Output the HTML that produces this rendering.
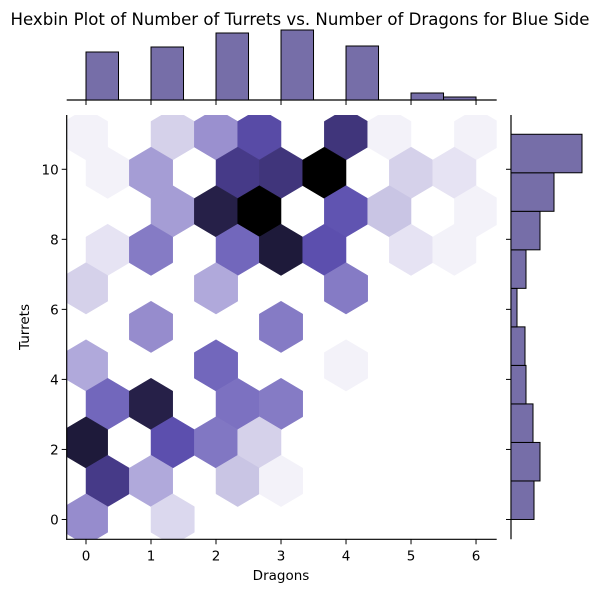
<!DOCTYPE html>
<html><head><meta charset="utf-8"><style>
body{margin:0;background:#fff;}
svg{display:block;font-family:"DejaVu Sans","Liberation Sans",sans-serif;}
</style></head><body>
<svg id="chart" width="600" height="592" viewBox="0 0 600 592">
<defs><clipPath id="clipMain"><rect x="66.7" y="115" width="430" height="424.3"/></clipPath></defs>
<text x="300" y="25" text-anchor="middle" font-size="16.6" fill="#000">Hexbin Plot of Number of Turrets vs. Number of Dragons for Blue Side</text>
<g id="hexes" clip-path="url(#clipMain)"></g>
<g id="axes"></g>
<g id="topHist"></g>
<g id="rightHist"></g>
<text x="281" y="580" text-anchor="middle" font-size="13.5">Dragons</text>
<text transform="translate(29,327) rotate(-90)" text-anchor="middle" font-size="13.5">Turrets</text>
</svg>
<script>
// hex cells: [lattice (1 or 2), column i, row j, intensity 0..10]
const hexLattice = [1,1,1,1,1,1,1, 2,2,2,2,2,2,2, 1,1,1,1,1,1, 2,2,2,2,2,2,2, 1,1,1, 2,2, 1,1,1, 2,2,2,2, 1,1,1,1, 2,2,2,2, 1,1];
const hexCol     = [0,2,3,4,6,7,9, 0,1,3,4,5,7,8, 2,3,4,6,7,9, 0,1,3,4,5,7,8, 0,3,6, 1,4, 0,3,6, 0,1,3,4, 0,2,3,4, 0,1,3,4, 0,2];
const hexRow     = [5,5,5,5,5,5,5, 4,4,4,4,4,4,4, 4,4,4,4,4,4, 3,3,3,3,3,3,3, 3,3,3, 2,2, 2,2,2, 1,1,1,1, 1,1,1,1, 0,0,0,0, 0,0];
const hexValue   = [0,1.5,4,7.2,8.2,0,0, 0,3.5,8,8.2,10,1.5,0.7, 3.5,9,10,6.8,2,0, 0.7,5,6,9.2,7,0.7,0, 1.5,3,5, 4.2,5, 3,6,0, 6,9,5.5,5, 9.2,7,5.2,1.5, 8,3,2,0, 4.2,1.2];
const dragonBins = [0,0.5,1,1.5,2,2.5,3,3.5,4,4.5,5,5.5];
const dragonCounts = [48,0,53,0,67,0,70,0,54,0,7,3];
const turretBins = [0,1.1,2.2,3.3,4.4,5.5,6.6,7.7,8.8,9.9];
const turretCounts = [23,29,22,15,14,6,15,29,43,71];
const xTicks = [0,1,2,3,4,5,6];
const yTicks = [0,2,4,6,8,10];

const NS="http://www.w3.org/2000/svg";
const X0=66.7,X1=496.7,Y0=539.3,Y1=115;
const xd=[-0.297,6.318], yd=[-0.566,11.55];
const sx=v=>X0+(v-xd[0])/(xd[1]-xd[0])*(X1-X0);
const sy=v=>Y0-(v-yd[0])/(yd[1]-yd[0])*(Y0-Y1);
const gx=6/9, gy=11/5;
const stops=["#f3f2f9","#e0ddf0","#c9c5e4","#b0a9db","#9a90cf","#857bc5","#7267bc","#5c4fae","#463a88","#262048","#000000"];
function hex2rgb(h){return [1,3,5].map(k=>parseInt(h.substr(k,2),16));}
function color(v){v=Math.max(0,Math.min(10,v));const a=Math.floor(v),b=Math.min(10,a+1),t=v-a;
 const c1=hex2rgb(stops[a]),c2=hex2rgb(stops[b]);return "rgb("+c1.map((c,k)=>Math.round(c+(c2[k]-c)*t)).join(",")+")";}
function mk(tag,attrs,parent){const e=document.createElementNS(NS,tag);for(const k in attrs)e.setAttribute(k,attrs[k]);parent.appendChild(e);return e;}

const hg=document.getElementById("hexes");
const off=[[0.5,-0.5],[0.5,0.5],[0,1],[-0.5,0.5],[-0.5,-0.5],[0,-1]];
for(let n=0;n<hexValue.length;n++){
  const o=hexLattice[n]===2?0.5:0;
  const cx=(hexCol[n]+o)*gx, cy=(hexRow[n]+o)*gy;
  const pts=off.map(p=>sx(cx+p[0]*gx).toFixed(2)+","+sy(cy+p[1]*gy/3).toFixed(2)).join(" ");
  const p=mk("polygon",{points:pts,fill:color(hexValue[n]),stroke:color(hexValue[n]),"stroke-width":0.5},hg);
  
  
}

const ax=document.getElementById("axes");
const l1=mk("line",{x1:X0,y1:Y1,x2:X0,y2:Y0+0.5,stroke:"#000","stroke-width":1.2},ax);


const l2=mk("line",{x1:X0-0.5,y1:Y0,x2:X1,y2:Y0,stroke:"#000","stroke-width":1.2},ax);


xTicks.forEach(t=>{
  mk("line",{x1:sx(t),y1:Y0,x2:sx(t),y2:Y0+5,stroke:"#000"},ax);
  const tx=mk("text",{x:sx(t),y:Y0+21,"text-anchor":"middle","font-size":13.5},ax);tx.textContent=t;
  
  
  mk("line",{x1:sx(t),y1:100,x2:sx(t),y2:105,stroke:"#000"},ax);
});
yTicks.forEach(t=>{
  mk("line",{x1:X0-5,y1:sy(t),x2:X0,y2:sy(t),stroke:"#000"},ax);
  const tx=mk("text",{x:X0-8,y:sy(t)+5,"text-anchor":"end","font-size":13.5},ax);tx.textContent=t;
  
  
  mk("line",{x1:506,y1:sy(t),x2:511,y2:sy(t),stroke:"#000"},ax);
});
mk("line",{x1:X0,y1:100,x2:X1,y2:100,stroke:"#000","stroke-width":1.2},ax);
mk("line",{x1:511,y1:Y1,x2:511,y2:Y0,stroke:"#000","stroke-width":1.2},ax);

const th=document.getElementById("topHist");
dragonBins.forEach((b,k)=>{if(!dragonCounts[k])return;
  const x=sx(b),w=sx(b+0.5)-x,h=dragonCounts[k];
  const r=mk("rect",{x:x,y:100-h,width:w,height:h,fill:"#766ea8",stroke:"#000","stroke-width":1},th);
  
  
});
const rh=document.getElementById("rightHist");
turretBins.forEach((b,k)=>{
  const y=sy(b+1.1),h=sy(b)-y,w=turretCounts[k];
  const r=mk("rect",{x:511,y:y,width:w,height:h,fill:"#766ea8",stroke:"#000","stroke-width":1},rh);
  
  
});
</script>
</body></html>
